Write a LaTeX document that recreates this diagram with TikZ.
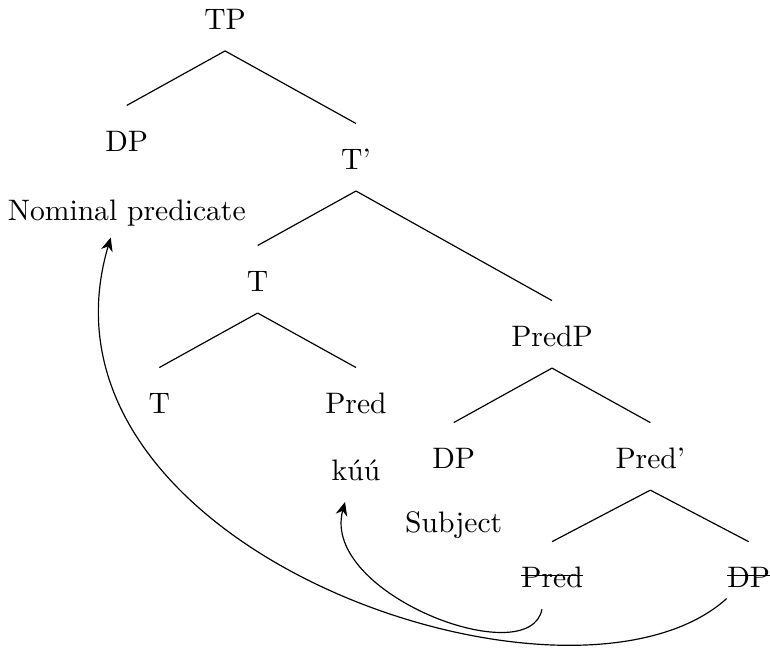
\documentclass[tikz,border=0pt]{standalone}
\usepackage{tikz}
\usetikzlibrary{positioning,arrows.meta}
\newcommand{\tachado}[1]{\sbox0{#1}\rlap{\rule[3.7pt]{\wd0}{0.5pt}}\usebox0}

\begin{document}
\begin{tikzpicture}[
    node distance=41.2pt and 33.2pt, on grid,
    nodo/.style={text height=8pt, text depth=0pt, inner xsep=0pt, inner ysep=7.2pt},
    flecha/.style={-{Stealth[length=4.6pt, width=4pt]}}]
  \useasboundingbox (-76pt,5.8pt) rectangle (184pt,-213.7pt);
  \node[nodo] (tp) at (0,0) {TP};
  \node[nodo, below left=of tp] (dp1) {DP};
  \node[nodo, below right=47.3pt and 44.2pt of tp] (tbar) {T'};
  \node[nodo, below=23.3pt of dp1] (np) {Nominal predicate};
  \node[nodo, below left=of tbar] (t1) {T};
  \node[nodo, below right=59.8pt and 66.2pt of tbar] (predp) {PredP};
  \node[nodo, below left=of t1] (t2) {T};
  \node[nodo, below right=of t1] (pred) {Pred};
  \node[nodo, below=22.6pt of pred] (kuu) {kúú};
  \node[nodo, below left=of predp] (dp2) {DP};
  \node[nodo, below right=of predp] (predbar) {Pred'};
  \node[nodo, below=21.6pt of dp2] (subj) {Subject};
  \node[nodo, below left=40.2pt and 33.2pt of predbar] (predx) {\tachado{Pred}};
  \node[nodo, below right=40.2pt and 33.2pt of predbar] (dpx) {\tachado{DP}};
  \draw (tp.south) -- (dp1.north);
  \draw (tp.south) -- (tbar.north);
  \draw (tbar.south) -- (t1.north);
  \draw (tbar.south) -- (predp.north);
  \draw (t1.south) -- (t2.north);
  \draw (t1.south) -- (pred.north);
  \draw (predp.south) -- (dp2.north);
  \draw (predp.south) -- (predbar.north);
  \draw (predbar.south) -- (predx.north);
  \draw (predbar.south) -- (dpx.north);
  % movimientos
  \draw[flecha] ([xshift=-3.4pt]predx.south) .. controls +(-4.1pt,-21.6pt) and +(-8.4pt,-31.1pt) .. ([xshift=-3.7pt]kuu.south);
  \draw[flecha] ([yshift=3.6pt]dpx.south west) .. controls +(-52pt,-47pt) and +(-31.4pt,-105.7pt) .. ([xshift=-5.4pt,yshift=1.5pt]np.south);
\end{tikzpicture}
\end{document}
